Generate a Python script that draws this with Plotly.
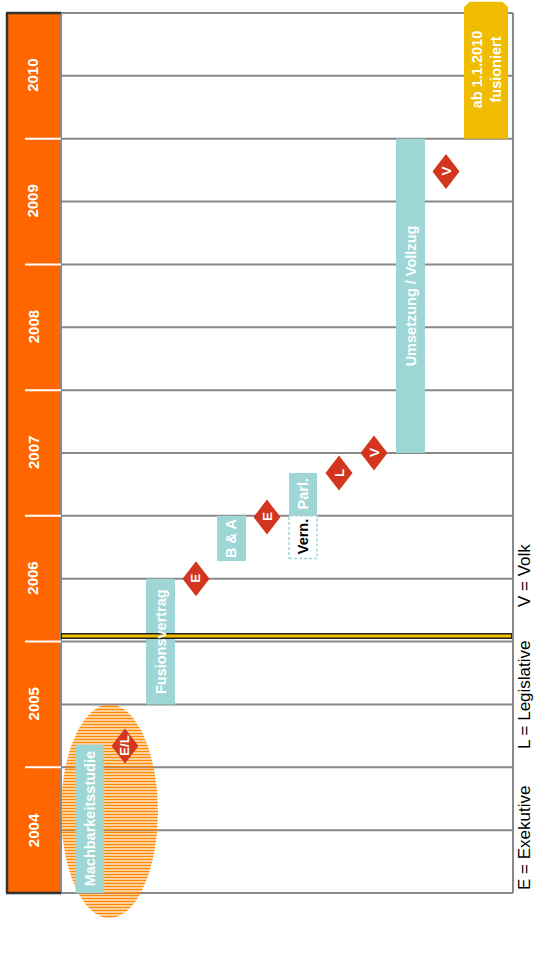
import numpy as np
import plotly.graph_objects as go

# ---------------- data ----------------
years = [2004, 2005, 2006, 2007, 2008, 2009, 2010]
year_labels = ["2004", "2005", "2006", "2007", "2008", "2009", "2010"]

phase_names = ["Machbarkeitsstudie", "Fusionsvertrag", "B & A", "Parl.", "Umsetzung / Vollzug"]
phase_start = [2004.0, 2005.5, 2006.64, 2007.0, 2007.5]
phase_end = [2005.18, 2006.5, 2007.0, 2007.34, 2010.0]

consult_name = "Vern."
consult_start = 2006.66
consult_end = 2007.0

merge_label = "ab 1.1.2010<br>fusioniert"
merge_start = 2010.0
merge_end = 2011.09

milestone_labels = ["E/L", "E", "E", "L", "V", "V"]
milestone_dates = [2005.17, 2006.5, 2006.99, 2007.34, 2007.5, 2009.74]

highlight_period = [2003.8, 2005.5]
marker_line_date = 2006.045

legend_items = ["E = Exekutive", "L = Legislative", "V = Volk"]

# ---------------- layout / style ----------------
W, H = 536, 955
GRID_TOP_PX, GRID_BOT_PX = 13, 893
T_FIRST, T_LAST = years[0], years[-1] + 1
PPY = (GRID_BOT_PX - GRID_TOP_PX) / (T_LAST - T_FIRST)  # pixels per year
Y_RANGE = [T_FIRST - (H - GRID_BOT_PX) / PPY, T_LAST + GRID_TOP_PX / PPY]


def px2t(py):
    return T_FIRST + (GRID_BOT_PX - py) / PPY


def dt(px):
    return px / PPY


BAND_L, BAND_R = 7, 61
GRID_R = 513
phase_x = [89.5, 160.5, 231.5, 303, 410.5]
phase_w = [28, 29, 29, 28, 29]
consult_x, consult_w = 303, 28
merge_x, merge_w = 486, 44
milestone_x = [125, 196, 267, 339, 374, 446]
DIA_HX, DIA_HY = 13.5, 17.5
ELL_CX, ELL_RX = 109.5, 48.5

ORANGE = "#FF6600"
TEAL = "#9DD6D5"
RED = "#D3351E"
YELLOW = "#EFBC00"
GRID = "#888888"
DARK = "#333333"
FONT = "Liberation Sans, Arial, sans-serif"

fig = go.Figure()

# highlight ellipse (dotted orange)
cy = (highlight_period[0] + highlight_period[1]) / 2
ry = (highlight_period[1] - highlight_period[0]) / 2
th = np.linspace(0, 2 * np.pi, 145)
fig.add_trace(go.Scatter(
    x=ELL_CX + ELL_RX * np.cos(th), y=cy + ry * np.sin(th),
    mode="lines", line=dict(width=0, color="rgba(0,0,0,0)"),
    fill="toself", fillcolor="rgba(0,0,0,0)",
    fillpattern=dict(shape="-", fgcolor="#FF8A00", bgcolor="rgba(255,255,255,0)",
                     size=3, solidity=0.6, fgopacity=1),
    hoverinfo="skip", showlegend=False))

# phase bars (filled rectangles on the time axis)
bx, by = [], []
for xv, wv, s, e in zip(phase_x, phase_w, phase_start, phase_end):
    x0, x1 = xv - wv / 2, xv + wv / 2
    bx += [x0, x1, x1, x0, x0, None]
    by += [s, s, e, e, s, None]
fig.add_trace(go.Scatter(
    x=bx, y=by, mode="lines", line=dict(width=0, color=TEAL),
    fill="toself", fillcolor=TEAL, hoverinfo="skip", showlegend=False))

# consultation (dashed box)
cx0, cx1 = consult_x - consult_w / 2, consult_x + consult_w / 2
fig.add_trace(go.Scatter(
    x=[cx0, cx1, cx1, cx0, cx0], y=[consult_start, consult_start, consult_end, consult_end, consult_start],
    mode="lines", line=dict(color=TEAL, width=1.5, dash="3px,2px"),
    fill="toself", fillcolor="white", hoverinfo="skip", showlegend=False))

# merge arrow (chamfered top)
mx0, mx1 = merge_x - merge_w / 2, merge_x + merge_w / 2
ch_x, ch_y = 5.5, dt(5.5)
fig.add_trace(go.Scatter(
    x=[mx0, mx0, mx0 + ch_x, mx1 - ch_x, mx1, mx1, mx0],
    y=[merge_start, merge_end - ch_y, merge_end, merge_end, merge_end - ch_y, merge_start, merge_start],
    mode="lines", line=dict(width=0, color=YELLOW), fill="toself", fillcolor=YELLOW,
    hoverinfo="skip", showlegend=False))

# milestone diamonds
dx, dy = [], []
for mxv, md in zip(milestone_x, milestone_dates):
    hy = dt(DIA_HY)
    dx += [mxv, mxv + DIA_HX, mxv, mxv - DIA_HX, mxv, None]
    dy += [md + hy, md, md - hy, md, md + hy, None]
fig.add_trace(go.Scatter(
    x=dx, y=dy, mode="lines", line=dict(width=0, color=RED),
    fill="toself", fillcolor=RED, hoverinfo="skip", showlegend=False))

# ---------------- shapes ----------------
shapes = []
# orange year band
shapes.append(dict(type="rect", xref="x", yref="y", x0=BAND_L, x1=BAND_R, y0=T_FIRST, y1=T_LAST,
                   fillcolor=ORANGE, line=dict(width=0), layer="below"))
# half-year grid lines
for y in years:
    for t in (y, y + 0.5):
        shapes.append(dict(type="line", xref="x", yref="y", x0=BAND_R, x1=GRID_R, y0=t, y1=t,
                           line=dict(color=GRID, width=2), layer="below"))
shapes.append(dict(type="line", xref="x", yref="y", x0=BAND_R, x1=GRID_R, y0=T_LAST, y1=T_LAST,
                   line=dict(color=GRID, width=2), layer="below"))
# vertical frame lines
for xv in (BAND_R, GRID_R):
    shapes.append(dict(type="line", xref="x", yref="y", x0=xv, x1=xv, y0=T_FIRST, y1=T_LAST,
                       line=dict(color=GRID, width=2), layer="below"))
# dark band border
shapes.append(dict(type="line", xref="x", yref="y", x0=BAND_L, x1=BAND_L, y0=T_FIRST, y1=T_LAST,
                   line=dict(color=DARK, width=2.5), layer="below"))
for t in (T_FIRST, T_LAST):
    shapes.append(dict(type="line", xref="x", yref="y", x0=BAND_L - 1, x1=BAND_R, y0=t, y1=t,
                       line=dict(color=DARK, width=2.5), layer="below"))
# white year ticks
for y in years[1:]:
    shapes.append(dict(type="line", xref="x", yref="y", x0=25, x1=BAND_R, y0=y, y1=y,
                       line=dict(color="white", width=2), layer="below"))
# yellow marker line
shapes.append(dict(type="line", xref="x", yref="y", x0=BAND_R, x1=GRID_R - 1,
                   y0=marker_line_date, y1=marker_line_date,
                   line=dict(color="#222222", width=6), layer="above"))
shapes.append(dict(type="line", xref="x", yref="y", x0=BAND_R + 1, x1=GRID_R - 2,
                   y0=marker_line_date, y1=marker_line_date,
                   line=dict(color=YELLOW, width=3), layer="above"))

# ---------------- annotations ----------------
ann = []


def label(x, y, text, size=14.5, color="white"):
    ann.append(dict(x=x, y=y, xref="x", yref="y", text=text, showarrow=False, textangle=-90,
                    xanchor="center", yanchor="middle",
                    font=dict(family=FONT, size=size, color=color)))


for y, lab in zip(years, year_labels):
    label(33, y + 0.5, "<b>" + lab + "</b>", size=15)
for name, xv, s, e in zip(phase_names, phase_x, phase_start, phase_end):
    label(xv, (s + e) / 2, "<b>" + name + "</b>")
label(consult_x, (consult_start + consult_end) / 2, "<b>" + consult_name + "</b>", color="black")
label(merge_x, (merge_start + merge_end) / 2, "<b>" + merge_label + "</b>")
for mxv, md, ml in zip(milestone_x, milestone_dates, milestone_labels):
    label(mxv, md, "<b>" + ml + "</b>", size=13.5)
for txt, py in zip(legend_items, [838, 695, 576]):
    label(524, px2t(py), txt, size=17, color="black")

fig.update_layout(
    width=W, height=H, margin=dict(l=0, r=0, t=0, b=0),
    paper_bgcolor="white", plot_bgcolor="white",
    xaxis=dict(range=[0, W], visible=False, fixedrange=True),
    yaxis=dict(range=Y_RANGE, visible=False, fixedrange=True),
    shapes=shapes, annotations=ann, showlegend=False,
)

fig.write_html("out.html", config={"displayModeBar": False},
               post_script="document.body.style.margin='0';document.body.style.overflow='hidden';")
